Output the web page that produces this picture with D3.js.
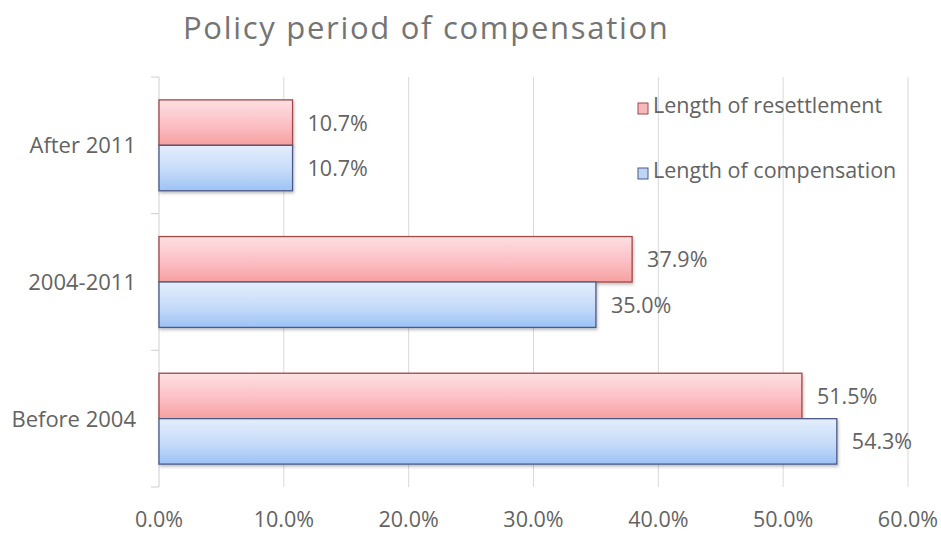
<!DOCTYPE html>
<html><head><meta charset="utf-8">
<script src="https://cdn.jsdelivr.net/npm/d3@7"></script>
<style>body{margin:0;background:#fff;} text{font-family:"Open Sans",Lato,sans-serif;}</style>
</head><body><svg id="c" width="941" height="533"></svg>
<script>
const categories = ["After 2011","2004-2011","Before 2004"];
const seriesNames = ["Length of resettlement","Length of compensation"];
const resettlement = [10.7, 37.9, 51.5];
const compensation = [10.7, 35.0, 54.3];
const xTicks = [0,10,20,30,40,50,60];

(function(){
const svg = d3.select("#c");
const pLeft = 159, pRight = 908, pTop = 77, pBottom = 487;
const fs = 21.5, txt = "#636363";
const x = d3.scaleLinear().domain([0,60]).range([pLeft,pRight]);
const y = d3.scaleBand().domain(categories).range([pTop,pBottom]).paddingInner(0.335).paddingOuter(0.1675);
const sub = d3.scaleBand().domain(seriesNames).range([0,y.bandwidth()]);

const defs = svg.append("defs");
function grad(id, c1, c2, c3){
  const g = defs.append("linearGradient").attr("id",id).attr("x1",0).attr("y1",0).attr("x2",0).attr("y2",1);
  g.append("stop").attr("offset","0%").attr("stop-color",c1);
  g.append("stop").attr("offset","55%").attr("stop-color",c2);
  g.append("stop").attr("offset","100%").attr("stop-color",c3);
}
grad("gr","#fde0e2","#fbbfc5","#f7a0a0");
grad("gb","#e4eefc","#c6dbf9","#9cc2f5");
const f = defs.append("filter").attr("id","sh").attr("x","-5%").attr("y","-10%").attr("width","115%").attr("height","140%");
f.append("feDropShadow").attr("dx",1).attr("dy",2).attr("stdDeviation",1.5).attr("flood-color","#000").attr("flood-opacity",0.25);

svg.append("text").attr("x",183).attr("y",39).attr("text-anchor","start")
  .attr("font-size",31).attr("letter-spacing",1.7).attr("fill","#747474").text("Policy period of compensation");

svg.append("g").selectAll("line").data(xTicks.slice(1)).join("line")
  .attr("x1",d=>x(d)).attr("x2",d=>x(d)).attr("y1",pTop).attr("y2",pBottom)
  .attr("stroke","#d9d9d9").attr("stroke-width",1);
svg.append("line").attr("x1",pLeft).attr("x2",pLeft).attr("y1",pTop).attr("y2",pBottom).attr("stroke","#d0d0d0");
const bounds = [pTop, ...categories.slice(1).map(c=>y(c)-y.step()*y.paddingInner()/2), pBottom];
svg.append("g").selectAll("line").data(bounds).join("line")
  .attr("x1",pLeft-8).attr("x2",pLeft).attr("y1",d=>d).attr("y2",d=>d).attr("stroke","#d0d0d0");

svg.append("g").selectAll("text").data(xTicks).join("text")
  .attr("x",d=>x(d)).attr("y",527).attr("text-anchor","middle")
  .attr("font-size",fs).attr("fill",txt).text(d=>d.toFixed(1)+"%");
svg.append("g").selectAll("text").data(categories).join("text")
  .attr("x",136).attr("y",d=>y(d)+y.bandwidth()/2+8).attr("text-anchor","end")
  .attr("font-size",fs+0.5).attr("fill",txt).text(d=>d);

const series = [
  {name:seriesNames[0], vals:resettlement, fill:"url(#gr)", stroke:"#a04848"},
  {name:seriesNames[1], vals:compensation, fill:"url(#gb)", stroke:"#4a5a88"}
];
const bars = svg.append("g");
series.forEach(s=>{
  bars.append("g").selectAll("rect").data(categories).join("rect")
    .attr("x",pLeft).attr("y",(d)=>y(d)+sub(s.name))
    .attr("width",(d,i)=>x(s.vals[i])-pLeft).attr("height",sub.bandwidth())
    .attr("fill",s.fill).attr("stroke",s.stroke).attr("stroke-width",1.3)
    .attr("filter","url(#sh)");
});
series.forEach(s=>{
  svg.append("g").selectAll("text").data(categories).join("text")
    .attr("x",(d,i)=>x(s.vals[i])+15).attr("y",d=>y(d)+sub(s.name)+sub.bandwidth()/2+8)
    .attr("font-size",fs).attr("fill",txt).text((d,i)=>s.vals[i].toFixed(1)+"%");
});

const lg = svg.append("g");
series.forEach((s,i)=>{
  const yb = 113 + i*65;
  lg.append("rect").attr("x",638).attr("y",yb-10).attr("width",10).attr("height",11)
    .attr("fill",i==0?"#f7b9bd":"#bfd5f5").attr("stroke",s.stroke).attr("stroke-width",1);
  lg.append("text").attr("x",653).attr("y",yb).attr("font-size",fs).attr("fill",txt).text(s.name);
});
})();
</script></body></html>
